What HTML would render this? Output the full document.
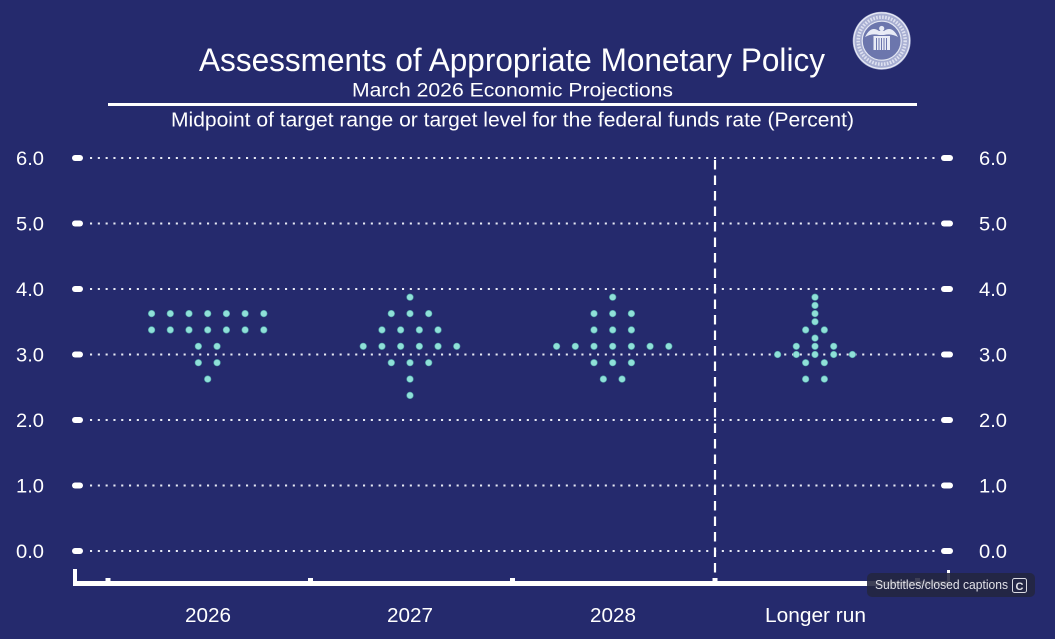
<!DOCTYPE html>
<html>
<head>
<meta charset="utf-8">
<style>
html,body{margin:0;padding:0;background:#252a6d;}
svg{display:block;}
text{font-family:"Liberation Sans",Arial,sans-serif;}
</style>
</head>
<body>
<svg width="1055" height="639" viewBox="0 0 1055 639" xmlns="http://www.w3.org/2000/svg">
<rect x="0" y="0" width="1055" height="639" fill="#252a6d"/>

<!-- Title -->
<text x="199" y="71" font-size="32" fill="#ffffff" textLength="626" lengthAdjust="spacingAndGlyphs">Assessments of Appropriate Monetary Policy</text>
<text x="352" y="96.5" font-size="19.5" fill="#ffffff" textLength="321" lengthAdjust="spacingAndGlyphs">March 2026 Economic Projections</text>
<rect x="108" y="103" width="809" height="3" fill="#ffffff"/>
<text x="171" y="126.5" font-size="20" fill="#ffffff" textLength="683" lengthAdjust="spacingAndGlyphs">Midpoint of target range or target level for the federal funds rate (Percent)</text>

<!-- Seal -->
<g>
<circle cx="881.7" cy="40.7" r="29" fill="#a7aed2"/>
<circle cx="881.7" cy="40.7" r="27.8" fill="none" stroke="#e8eaf5" stroke-width="1.2"/>
<circle cx="881.7" cy="40.7" r="23.5" fill="none" stroke="#f0f2fa" stroke-width="3.5" stroke-dasharray="1.6 1.4" opacity="0.75"/>
<circle cx="881.7" cy="40.7" r="19.5" fill="#6c76ad" stroke="#e4e7f3" stroke-width="1.2"/>
<path d="M865 37 Q871 25 879 31 L884 31 Q892 25 898 37 Q891 33 884 35 L879 35 Q872 33 865 37Z" fill="#e8ebf6"/>
<circle cx="881.7" cy="28.5" r="2.6" fill="#e8ebf6"/>
<rect x="873.5" y="36" width="16.5" height="14" fill="#e8ebf6"/>
<g stroke="#6c76ad" stroke-width="1">
<line x1="876.5" y1="38" x2="876.5" y2="50"/>
<line x1="879" y1="38" x2="879" y2="50"/>
<line x1="881.5" y1="38" x2="881.5" y2="50"/>
<line x1="884" y1="38" x2="884" y2="50"/>
<line x1="886.5" y1="38" x2="886.5" y2="50"/>
</g>
</g>

<!-- Grid lines -->
<g stroke="#e8eaf5" stroke-width="2.1" stroke-dasharray="2.1 5.7" fill="none">
<line x1="90" y1="158" x2="938" y2="158"/>
<line x1="90" y1="223.5" x2="938" y2="223.5"/>
<line x1="90" y1="289" x2="938" y2="289"/>
<line x1="90" y1="354.5" x2="938" y2="354.5"/>
<line x1="90" y1="420" x2="938" y2="420"/>
<line x1="90" y1="485.5" x2="938" y2="485.5"/>
<line x1="90" y1="551" x2="938" y2="551"/>
</g>

<!-- tick pills -->
<g fill="#ffffff">
<rect x="72" y="155" width="11" height="6" rx="3"/>
<rect x="72" y="220.5" width="11" height="6" rx="3"/>
<rect x="72" y="286" width="11" height="6" rx="3"/>
<rect x="72" y="351.5" width="11" height="6" rx="3"/>
<rect x="72" y="417" width="11" height="6" rx="3"/>
<rect x="72" y="482.5" width="11" height="6" rx="3"/>
<rect x="72" y="548" width="11" height="6" rx="3"/>
<rect x="941" y="155" width="12" height="6" rx="3"/>
<rect x="941" y="220.5" width="12" height="6" rx="3"/>
<rect x="941" y="286" width="12" height="6" rx="3"/>
<rect x="941" y="351.5" width="12" height="6" rx="3"/>
<rect x="941" y="417" width="12" height="6" rx="3"/>
<rect x="941" y="482.5" width="12" height="6" rx="3"/>
<rect x="941" y="548" width="12" height="6" rx="3"/>
</g>

<!-- Y labels -->
<g font-size="19" fill="#ffffff">
<text x="16" y="165" textLength="28" lengthAdjust="spacingAndGlyphs">6.0</text>
<text x="16" y="230.5" textLength="28" lengthAdjust="spacingAndGlyphs">5.0</text>
<text x="16" y="296" textLength="28" lengthAdjust="spacingAndGlyphs">4.0</text>
<text x="16" y="361.5" textLength="28" lengthAdjust="spacingAndGlyphs">3.0</text>
<text x="16" y="427" textLength="28" lengthAdjust="spacingAndGlyphs">2.0</text>
<text x="16" y="492.5" textLength="28" lengthAdjust="spacingAndGlyphs">1.0</text>
<text x="16" y="558" textLength="28" lengthAdjust="spacingAndGlyphs">0.0</text>
<text x="979" y="165" textLength="28" lengthAdjust="spacingAndGlyphs">6.0</text>
<text x="979" y="230.5" textLength="28" lengthAdjust="spacingAndGlyphs">5.0</text>
<text x="979" y="296" textLength="28" lengthAdjust="spacingAndGlyphs">4.0</text>
<text x="979" y="361.5" textLength="28" lengthAdjust="spacingAndGlyphs">3.0</text>
<text x="979" y="427" textLength="28" lengthAdjust="spacingAndGlyphs">2.0</text>
<text x="979" y="492.5" textLength="28" lengthAdjust="spacingAndGlyphs">1.0</text>
<text x="979" y="558" textLength="28" lengthAdjust="spacingAndGlyphs">0.0</text>
</g>

<!-- vertical dashed separator -->
<line x1="715" y1="160" x2="715" y2="580" stroke="#ffffff" stroke-width="2.2" stroke-dasharray="9.5 6"/>

<!-- bottom axis -->
<g fill="#ffffff">
<rect x="73" y="581" width="877" height="5"/>
<rect x="73" y="569" width="4" height="17"/>
<rect x="947" y="570" width="3" height="16"/>
<rect x="105.5" y="578" width="5" height="4"/>
<rect x="308" y="578" width="5" height="4"/>
<rect x="510" y="578" width="5" height="4"/>
<rect x="712.5" y="578" width="5" height="4"/>
<rect x="915" y="578" width="5" height="4"/>
</g>

<!-- X labels -->
<g font-size="20" fill="#ffffff">
<text x="185" y="622" textLength="46" lengthAdjust="spacingAndGlyphs">2026</text>
<text x="387" y="622" textLength="46" lengthAdjust="spacingAndGlyphs">2027</text>
<text x="590" y="622" textLength="46" lengthAdjust="spacingAndGlyphs">2028</text>
<text x="765" y="622" textLength="101" lengthAdjust="spacingAndGlyphs">Longer run</text>
</g>

<!-- Dots -->
<g fill="#8fe0d8" stroke="#4fa3a8" stroke-width="0.6">
<!-- 2026 -->
<circle cx="151.6" cy="313.6" r="3.3"/><circle cx="170.3" cy="313.6" r="3.3"/><circle cx="189" cy="313.6" r="3.3"/><circle cx="207.7" cy="313.6" r="3.3"/><circle cx="226.4" cy="313.6" r="3.3"/><circle cx="245.1" cy="313.6" r="3.3"/><circle cx="263.8" cy="313.6" r="3.3"/>
<circle cx="151.6" cy="329.9" r="3.3"/><circle cx="170.3" cy="329.9" r="3.3"/><circle cx="189" cy="329.9" r="3.3"/><circle cx="207.7" cy="329.9" r="3.3"/><circle cx="226.4" cy="329.9" r="3.3"/><circle cx="245.1" cy="329.9" r="3.3"/><circle cx="263.8" cy="329.9" r="3.3"/>
<circle cx="198.35" cy="346.3" r="3.3"/><circle cx="217.05" cy="346.3" r="3.3"/>
<circle cx="198.35" cy="362.7" r="3.3"/><circle cx="217.05" cy="362.7" r="3.3"/>
<circle cx="207.7" cy="379.1" r="3.3"/>
<!-- 2027 -->
<circle cx="410" cy="297.2" r="3.3"/>
<circle cx="391.3" cy="313.6" r="3.3"/><circle cx="410" cy="313.6" r="3.3"/><circle cx="428.7" cy="313.6" r="3.3"/>
<circle cx="381.95" cy="329.9" r="3.3"/><circle cx="400.65" cy="329.9" r="3.3"/><circle cx="419.35" cy="329.9" r="3.3"/><circle cx="438.05" cy="329.9" r="3.3"/>
<circle cx="363.25" cy="346.3" r="3.3"/><circle cx="381.95" cy="346.3" r="3.3"/><circle cx="400.65" cy="346.3" r="3.3"/><circle cx="419.35" cy="346.3" r="3.3"/><circle cx="438.05" cy="346.3" r="3.3"/><circle cx="456.75" cy="346.3" r="3.3"/>
<circle cx="391.3" cy="362.7" r="3.3"/><circle cx="410" cy="362.7" r="3.3"/><circle cx="428.7" cy="362.7" r="3.3"/>
<circle cx="410" cy="379.1" r="3.3"/>
<circle cx="410" cy="395.4" r="3.3"/>
<!-- 2028 -->
<circle cx="612.7" cy="297.2" r="3.3"/>
<circle cx="594" cy="313.6" r="3.3"/><circle cx="612.7" cy="313.6" r="3.3"/><circle cx="631.4" cy="313.6" r="3.3"/>
<circle cx="594" cy="329.9" r="3.3"/><circle cx="612.7" cy="329.9" r="3.3"/><circle cx="631.4" cy="329.9" r="3.3"/>
<circle cx="556.6" cy="346.3" r="3.3"/><circle cx="575.3" cy="346.3" r="3.3"/><circle cx="594" cy="346.3" r="3.3"/><circle cx="612.7" cy="346.3" r="3.3"/><circle cx="631.4" cy="346.3" r="3.3"/><circle cx="650.1" cy="346.3" r="3.3"/><circle cx="668.8" cy="346.3" r="3.3"/>
<circle cx="594" cy="362.7" r="3.3"/><circle cx="612.7" cy="362.7" r="3.3"/><circle cx="631.4" cy="362.7" r="3.3"/>
<circle cx="603.35" cy="379.1" r="3.3"/><circle cx="622.05" cy="379.1" r="3.3"/>
<!-- Longer run -->
<circle cx="815" cy="297.2" r="3.3"/>
<circle cx="815" cy="305.4" r="3.3"/>
<circle cx="815" cy="313.6" r="3.3"/>
<circle cx="815" cy="321.75" r="3.3"/>
<circle cx="805.65" cy="329.9" r="3.3"/><circle cx="824.35" cy="329.9" r="3.3"/>
<circle cx="815" cy="338.1" r="3.3"/>
<circle cx="796.3" cy="346.3" r="3.3"/><circle cx="815" cy="346.3" r="3.3"/><circle cx="833.7" cy="346.3" r="3.3"/>
<circle cx="777.6" cy="354.5" r="3.3"/><circle cx="796.3" cy="354.5" r="3.3"/><circle cx="815" cy="354.5" r="3.3"/><circle cx="833.7" cy="354.5" r="3.3"/><circle cx="852.4" cy="354.5" r="3.3"/>
<circle cx="805.65" cy="362.7" r="3.3"/><circle cx="824.35" cy="362.7" r="3.3"/>
<circle cx="805.65" cy="379.1" r="3.3"/><circle cx="824.35" cy="379.1" r="3.3"/>
</g>

<!-- Caption overlay -->
<rect x="867" y="573" width="168" height="24" rx="5" fill="#232540" fill-opacity="0.88"/>
<text x="875" y="589" font-size="12.5" fill="#e2e2e8" textLength="133" lengthAdjust="spacingAndGlyphs">Subtitles/closed captions</text>
<rect x="1012.5" y="578.5" width="14" height="14" rx="2" fill="none" stroke="#dcdce4" stroke-width="1"/>
<text x="1019.5" y="590" font-size="11" font-weight="bold" fill="#e2e2e8" text-anchor="middle">C</text>
</svg>
</body>
</html>
